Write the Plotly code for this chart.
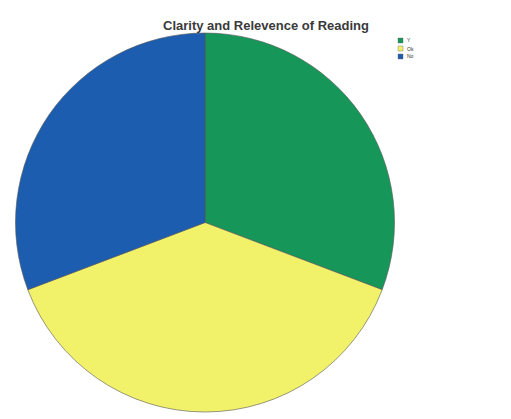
import plotly.graph_objects as go

labels = ["Y", "Ok", "No"]
values = [8, 10, 8]
colors = ["#17965a", "#f2f26a", "#1d5db0"]

W, H = 511, 419

fig = go.Figure(go.Pie(
    labels=labels,
    values=values,
    sort=False,
    direction="clockwise",
    rotation=0,
    textinfo="none",
    hoverinfo="label+value+percent",
    marker=dict(colors=colors, line=dict(color="#555555", width=0.6)),
    domain=dict(x=[10 / W, 400 / W], y=[7 / H, 386 / H]),
    showlegend=False,
))

# compact legend (plotly's built-in legend has a 19px minimum row height)
leg_x0, leg_y0, leg_dy, sq = 398, 38, 8, 5
shapes = []
annotations = []
for i, (lab, col) in enumerate(zip(labels, colors)):
    y = leg_y0 + i * leg_dy
    shapes.append(dict(
        type="rect", xref="paper", yref="paper",
        x0=leg_x0 / W, x1=(leg_x0 + sq) / W,
        y0=1 - y / H, y1=1 - (y + sq) / H,
        fillcolor=col, line=dict(color="#666666", width=0.4),
    ))
    annotations.append(dict(
        xref="paper", yref="paper",
        x=(leg_x0 + sq + 2) / W, y=1 - (y + sq / 2) / H,
        xanchor="left", yanchor="middle",
        text=lab, showarrow=False,
        font=dict(family="Liberation Sans, Arial, sans-serif", size=5, color="#333333"),
    ))

fig.update_layout(
    width=W, height=H,
    margin=dict(l=0, r=0, t=0, b=0),
    paper_bgcolor="white",
    plot_bgcolor="white",
    title=dict(
        text="<b>Clarity and Relevence of Reading</b>",
        x=266 / W, xanchor="center",
        y=1 - 25 / H, yanchor="middle",
        font=dict(family="Liberation Sans, Arial, sans-serif", size=13, color="#3a3a3a"),
    ),
    showlegend=False,
    shapes=shapes,
    annotations=annotations,
)

fig.write_html("out.html", config={"displayModeBar": False},
               post_script="document.body.style.margin='0';")
